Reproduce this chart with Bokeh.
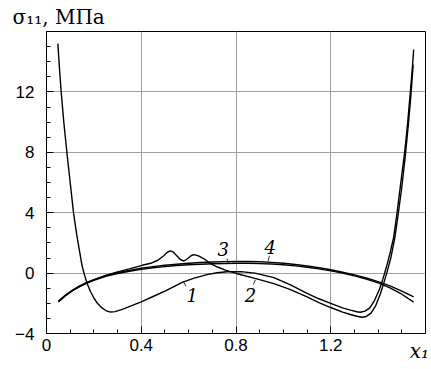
from bokeh.plotting import figure
from bokeh.models import FixedTicker, Label, LinearAxis, CustomJSTickFormatter
from bokeh.embed import file_html
from bokeh.resources import INLINE

# ---- data ----
x_c1 = [0.048, 0.055, 0.062, 0.073, 0.086, 0.1, 0.114, 0.127, 0.14, 0.15, 0.16, 0.172,
        0.185, 0.2, 0.215, 0.23, 0.25, 0.27, 0.29, 0.32, 0.36, 0.4, 0.45, 0.5, 0.54,
        0.573, 0.62, 0.678, 0.72, 0.762, 0.82, 0.88, 0.96, 1.03, 1.1, 1.15, 1.2, 1.25,
        1.283, 1.31, 1.325, 1.345, 1.365, 1.385, 1.405, 1.42, 1.435, 1.45, 1.466, 1.48,
        1.495, 1.512, 1.525, 1.536, 1.545, 1.55]
y_c1 = [15.2, 13.5, 12.0, 10.0, 8.0, 6.0, 4.0, 2.6, 1.4, 0.5, -0.1, -0.7,
        -1.2, -1.65, -2.0, -2.25, -2.48, -2.58, -2.55, -2.4, -2.15, -1.9, -1.55, -1.2, -0.88,
        -0.62, -0.35, -0.1, 0.02, 0.09, 0.1, 0.0, -0.3, -0.78, -1.35, -1.7, -2.0, -2.3,
        -2.45, -2.56, -2.59, -2.52, -2.3, -1.8, -1.1, -0.4, 0.4, 1.3, 2.4, 4.0,
        5.9, 8.0, 10.0, 12.0, 13.7, 14.8]

x_c2 = [0.052, 0.08, 0.11, 0.14, 0.172, 0.2, 0.25, 0.3, 0.35, 0.4, 0.44, 0.47, 0.495,
        0.51, 0.523, 0.535, 0.55, 0.565, 0.58, 0.595, 0.61, 0.622, 0.64, 0.665, 0.69,
        0.72, 0.755, 0.805, 0.88, 0.96, 1.03, 1.1, 1.15, 1.2, 1.25, 1.283, 1.31, 1.332,
        1.35, 1.37, 1.39, 1.41, 1.425, 1.44, 1.455, 1.47, 1.484, 1.5, 1.515, 1.528,
        1.538, 1.548]
y_c2 = [-1.88, -1.5, -1.15, -0.88, -0.64, -0.45, -0.15, 0.08, 0.28, 0.5, 0.65, 0.85, 1.15,
        1.38, 1.47, 1.4, 1.15, 0.9, 0.8, 0.95, 1.15, 1.22, 1.15, 0.95, 0.65,
        0.42, 0.2, -0.04, -0.35, -0.7, -1.1, -1.58, -1.95, -2.28, -2.58, -2.74, -2.86, -2.92,
        -2.87, -2.65, -2.15, -1.35, -0.6, 0.2, 1.1, 2.3, 3.8, 5.7, 7.8, 9.9,
        11.7, 13.8]

x_c34 = [0.05, 0.08, 0.11, 0.14, 0.17, 0.2, 0.25, 0.3, 0.35, 0.4, 0.45, 0.5, 0.55, 0.6,
         0.65, 0.7, 0.75, 0.8, 0.85, 0.9, 0.95, 1.0, 1.05, 1.1, 1.15, 1.2, 1.25, 1.3,
         1.35, 1.4, 1.45, 1.5, 1.55]
y_c3 = [-1.9, -1.5, -1.17, -0.9, -0.67, -0.48, -0.22, -0.03, 0.12, 0.25, 0.35, 0.43, 0.5,
        0.55, 0.59, 0.62, 0.64, 0.65, 0.65, 0.63, 0.6, 0.55, 0.48, 0.39, 0.28, 0.15, 0.0,
        -0.18, -0.39, -0.65, -0.98, -1.4, -1.92]
y_c4 = [-1.85, -1.45, -1.12, -0.85, -0.62, -0.43, -0.17, 0.03, 0.18, 0.32, 0.43, 0.52, 0.59,
        0.65, 0.7, 0.74, 0.76, 0.77, 0.77, 0.75, 0.71, 0.65, 0.57, 0.47, 0.35, 0.22, 0.06,
        -0.12, -0.32, -0.56, -0.85, -1.2, -1.58]

x_major = [0, 0.4, 0.8, 1.2]
x_minor = [0.1, 0.2, 0.3, 0.5, 0.6, 0.7, 0.9, 1.0, 1.1, 1.3, 1.4, 1.5]
y_major = [-4, 0, 4, 8, 12]
y_minor = [-3, -2, -1, 1, 2, 3, 5, 6, 7, 9, 10, 11, 13, 14, 15]

y_title = "σ₁₁, МПа"
x_title = "x₁"

curve_names = ["1", "2", "3", "4"]
name_x = [0.615, 0.861, 0.746, 0.945]
name_y = [-1.48, -1.48, 1.57, 1.70]
lead_x0 = [0.577, 0.882, 0.769, 0.935]
lead_y0 = [-0.53, -0.44, 0.64, 0.78]
lead_x1 = [0.589, 0.873, 0.762, 0.941]
lead_y1 = [-0.88, -0.75, 0.97, 1.14]

p = figure(width=431, height=369, x_range=(0, 1.6), y_range=(-4, 16),
           output_backend="svg", toolbar_location=None,
           min_border_left=46, min_border_right=6, min_border_top=30, min_border_bottom=36)
p.background_fill_color = "white"
p.border_fill_color = "white"
p.outline_line_color = "black"
p.outline_line_width = 1
p.outline_line_alpha = 1

# title used as the y quantity label (top-left)
p.title.text = y_title
p.title.text_font = "DejaVu Serif"
p.title.text_font_size = "20px"
p.title.text_font_style = "normal"
p.title.text_color = "black"
p.title.align = "left"
p.title.offset = -34
p.title.standoff = 5

for ax, maj, mnr, standoff in ((p.xaxis, x_major, x_minor, 5), (p.yaxis, y_major, y_minor, 12)):
    ax.ticker = FixedTicker(ticks=maj, minor_ticks=mnr)
    ax.major_tick_in = 7
    ax.major_tick_out = 0
    ax.minor_tick_in = 4
    ax.minor_tick_out = 0
    ax.axis_line_color = "black"
    ax.major_tick_line_color = "black"
    ax.minor_tick_line_color = "black"
    ax.major_label_text_font = "Liberation Sans"
    ax.major_label_text_font_size = "17px"
    ax.major_label_text_color = "black"
    ax.major_label_standoff = standoff

# x quantity label drawn by a bare extra axis that shares the tick-label row
x_name_axis = LinearAxis(
    ticker=FixedTicker(ticks=[1.574]),
    formatter=CustomJSTickFormatter(code="return '%s'" % x_title),
    axis_line_color=None, major_tick_line_color=None, minor_tick_line_color=None,
    major_tick_in=0, major_tick_out=0, minor_tick_in=0, minor_tick_out=0,
    major_label_standoff=-15,
    major_label_text_font="DejaVu Serif", major_label_text_font_style="italic",
    major_label_text_font_size="20px", major_label_text_color="black")
p.add_layout(x_name_axis, "below")

p.xgrid.ticker = FixedTicker(ticks=[0.4, 0.8, 1.2])
p.ygrid.ticker = FixedTicker(ticks=[0, 4, 8, 12])
p.grid.grid_line_color = "#a0a0a0"
p.grid.grid_line_width = 1

for xs, ys in ((x_c1, y_c1), (x_c2, y_c2), (x_c34, y_c3), (x_c34, y_c4)):
    p.line(xs, ys, line_color="black", line_width=1.4)

p.segment(lead_x0, lead_y0, lead_x1, lead_y1, line_color="black", line_width=0.8)

for t, x, y in zip(curve_names, name_x, name_y):
    p.add_layout(Label(x=x, y=y, text=t, text_font="DejaVu Serif", text_font_style="italic",
                       text_font_size="18px", text_align="center", text_baseline="middle",
                       text_color="black"))

open("out.html", "w").write(file_html(p, INLINE))
